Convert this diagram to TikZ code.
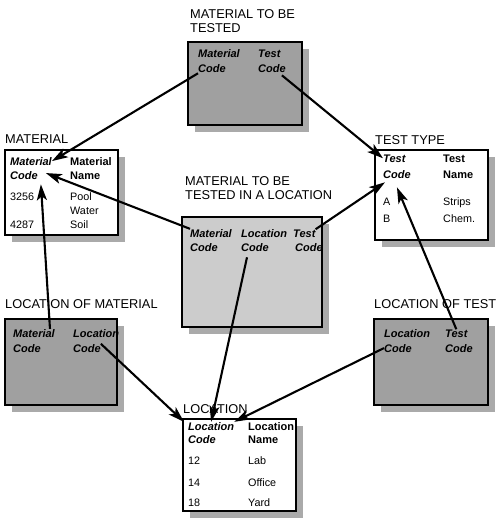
\documentclass[tikz,border=0pt]{standalone}
\usepackage{fontspec}
\setmainfont{Liberation Sans}
\usepackage{tikz}
\usetikzlibrary{arrows.meta, shadows}
\definecolor{boxdark}{RGB}{160,160,160}
\definecolor{boxlight}{RGB}{204,204,204}
\definecolor{shadowgray}{RGB}{170,170,170}
\tikzset{
  tbl/.style={rectangle, draw=black, fill=white, line width=1.5pt,
    anchor=north west, inner sep=0pt, outer sep=0pt,
    drop shadow={shadow xshift=7pt, shadow yshift=-7pt, fill=shadowgray, opacity=1}},
  darkbox/.style={tbl, fill=boxdark},
  lightbox/.style={tbl, fill=boxlight},
  tabtitle/.style={anchor=north west, inner sep=0pt, align=left,
    font=\fontsize{12.8}{14.5}\selectfont},
  keyhd/.style={anchor=base west, inner sep=0pt, font=\fontsize{11}{13}\selectfont\bfseries\itshape},
  colhd/.style={anchor=base west, inner sep=0pt, font=\fontsize{11}{13}\selectfont\bfseries},
  val/.style={anchor=base west, inner sep=0pt, font=\fontsize{10.8}{12}\selectfont},
  link/.style={-{Stealth[length=16pt, width=10pt, inset=4pt]}, line width=2.1pt, black}
}

\begin{document}
\begin{tikzpicture}[x=1pt, y=-1pt]
  \useasboundingbox (0,0) rectangle (500,519);

  % Material to be tested
  \node[tabtitle] (mtt-ttl) at (190,9) {MATERIAL TO BE\\TESTED};
  \node[darkbox, minimum width=114pt, minimum height=83pt] (mtt) at (188,42) {};
  \node[keyhd] (mtt-mat) at (198,58) {Material};
  \node[keyhd] (mtt-mcode) at (198,73) {Code};
  \node[keyhd] (mtt-test) at (258,58) {Test};
  \node[keyhd] (mtt-tcode) at (258,73) {Code};

  % Material
  \node[tabtitle] (mat-ttl) at (5,134) {MATERIAL};
  \node[tbl, minimum width=113pt, minimum height=85pt] (mat) at (5,150) {};
  \node[keyhd] (mat-mat) at (10,165) {Material};
  \node[keyhd] (mat-code) at (10,179) {Code};
  \node[colhd] (mat-name1) at (70,165) {Material};
  \node[colhd] (mat-name2) at (70,179) {Name};
  \node[val] (mat-c1) at (10,200) {3256};
  \node[val] (mat-n1) at (70,200) {Pool};
  \node[val] (mat-n1b) at (70,214) {Water};
  \node[val] (mat-c2) at (10,228) {4287};
  \node[val] (mat-n2) at (70,228) {Soil};

  % Test type
  \node[tabtitle] (tt-ttl) at (375,135) {TEST TYPE};
  \node[tbl, minimum width=113pt, minimum height=90pt] (tt) at (375,150) {};
  \node[keyhd] (tt-test) at (383,162) {Test};
  \node[keyhd] (tt-code) at (383,178) {Code};
  \node[colhd] (tt-name1) at (443,162) {Test};
  \node[colhd] (tt-name2) at (443,178) {Name};
  \node[val] (tt-c1) at (383,205) {A};
  \node[val] (tt-n1) at (443,205) {Strips};
  \node[val] (tt-c2) at (383,222) {B};
  \node[val] (tt-n2) at (443,222) {Chem.};

  % Material to be tested in a location
  \node[tabtitle] (mtl-ttl) at (185,176) {MATERIAL TO BE\\TESTED IN A LOCATION};
  \node[lightbox, minimum width=140pt, minimum height=110pt] (mtl) at (182,217) {};
  \node[keyhd] (mtl-mat) at (190,237) {Material};
  \node[keyhd] (mtl-mcode) at (190,251) {Code};
  \node[keyhd] (mtl-loc) at (241,237) {Location};
  \node[keyhd] (mtl-lcode) at (241,251) {Code};
  \node[keyhd] (mtl-test) at (293,237) {Test};
  \node[keyhd] (mtl-tcode) at (295,251) {Code};

  % Location of material
  \node[tabtitle] (lom-ttl) at (5,299) {LOCATION OF MATERIAL};
  \node[darkbox, minimum width=112pt, minimum height=86pt] (lom) at (5,319) {};
  \node[keyhd] (lom-mat) at (13,337) {Material};
  \node[keyhd] (lom-mcode) at (13,352) {Code};
  \node[keyhd] (lom-loc) at (73,337) {Location};
  \node[keyhd] (lom-lcode) at (73,352) {Code};

  % Location of test
  \node[tabtitle] (lot-ttl) at (374,299) {LOCATION OF TEST};
  \node[darkbox, minimum width=114pt, minimum height=86pt] (lot) at (374,319) {};
  \node[keyhd] (lot-loc) at (384,337) {Location};
  \node[keyhd] (lot-lcode) at (384,352) {Code};
  \node[keyhd] (lot-test) at (445,337) {Test};
  \node[keyhd] (lot-tcode) at (445,352) {Code};

  % Location
  \node[tabtitle] (loc-ttl) at (183,404) {LOCATION};
  \node[tbl, minimum width=113pt, minimum height=92pt] (loc) at (183,419) {};
  \node[keyhd] (loc-loc) at (188,430) {Location};
  \node[keyhd] (loc-code) at (188,443) {Code};
  \node[colhd] (loc-name1) at (248,430) {Location};
  \node[colhd] (loc-name2) at (248,443) {Name};
  \node[val] (loc-c1) at (188,464) {12};
  \node[val] (loc-n1) at (248,464) {Lab};
  \node[val] (loc-c2) at (188,486) {14};
  \node[val] (loc-n2) at (248,486) {Office};
  \node[val] (loc-c3) at (188,506) {18};
  \node[val] (loc-n3) at (248,506) {Yard};

  % Key links
  \draw[link] (mtt-mcode.south west) -- (mat-mat.east);
  \draw[link] ([xshift=-4pt,yshift=-2pt]mtt-tcode.south east) -- (tt-test.west);
  \draw[link] (mtl-mat.north west) -- ([xshift=8pt,yshift=2pt]mat-code.east);
  \draw[link] (mtl-test.north east) -- ([xshift=2pt,yshift=-4pt]tt-code.south west);
  \draw[link] ([xshift=-5pt]lom-mat.north east) -- ([xshift=3pt,yshift=-5pt]mat-code.south east);
  \draw[link] (lot-test.north) -- ([yshift=-9pt]tt-code.south);
  \draw[link] ([xshift=6pt,yshift=-6pt]mtl-lcode.south west) -- (loc-loc.north);
  \draw[link] (lom-lcode.north east) -- ([xshift=-4pt]loc-loc.north west);
  \draw[link] (lot-lcode.west) -- (loc-loc.north east);
\end{tikzpicture}
\end{document}
